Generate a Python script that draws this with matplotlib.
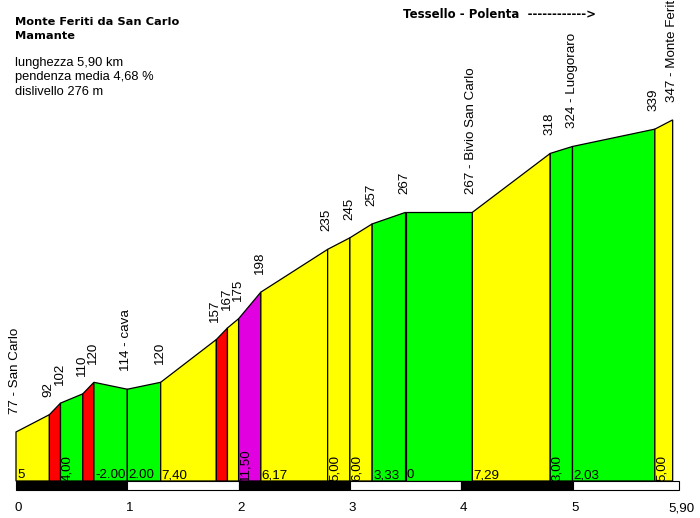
import matplotlib.pyplot as plt
from matplotlib.patches import Rectangle

# dati del profilo (km, quota)
km = [0.0, 0.3, 0.4, 0.6, 0.7, 1.0, 1.3, 1.8, 1.9, 2.0, 2.2, 2.8, 3.0, 3.2, 3.5, 4.1, 4.8, 5.0, 5.74, 5.9]
quota = [77, 92, 102, 110, 120, 114, 120, 157, 167, 175, 198, 235, 245, 257, 267, 267, 318, 324, 339, 347]
nomi = ['77 - San Carlo', '92', '102', '110', '120', '114 - cava', '120', '157', '167', '175', '198',
        '235', '245', '257', '267', '267 - Bivio San Carlo', '318', '324 - Luogoraro', '339', '347 - Monte Feriti']
pendenze = ['5', '', '4,00', '', '-2.00', '2.00', '7,40', '', '', '11,50', '6,17', '5,00', '6,00',
            '3,33', '0', '7,29', '3,00', '2,03', '5,00']
tick_km = [0, 1, 2, 3, 4, 5, 5.96]
tick_lab = ['0', '1', '2', '3', '4', '5', '5,90']

base = 34.6      # quota della linea di base
px_km = 111.3    # pixel per km
px_m = 1.156     # pixel per metro


def colore(p):
    if p < 4.5:
        return '#00ff00'
    if p < 9.5:
        return '#ffff00'
    if p < 11:
        return '#ff0000'
    return '#e000e0'


fig = plt.figure(figsize=(7, 5.18), dpi=100)
ax = fig.add_axes([0, 0, 1, 1])
ax.set_xlim(-16 / px_km, (700 - 16) / px_km)
y0 = 77 - 86 / px_m
ax.set_ylim(y0, y0 + 518 / px_m)
ax.axis('off')

font = 'Liberation Sans'
fs = 9.6

# segmenti colorati
for i in range(len(km) - 1):
    p = (quota[i + 1] - quota[i]) / (km[i + 1] - km[i]) / 10
    xs = [km[i], km[i], km[i + 1], km[i + 1]]
    ys = [base, quota[i], quota[i + 1], base]
    ax.fill(xs, ys, facecolor=colore(p), edgecolor='black', linewidth=0.9)
    w = km[i + 1] - km[i]
    if pendenze[i]:
        rot = 90 if w < 0.25 else 0
        ax.annotate(pendenze[i], (km[i], base), xytext=(1, 0), textcoords='offset pixels',
                    rotation=rot, ha='left', va='bottom', fontsize=fs, family=font)

# etichette quote (l'ultima esce dal bordo come nell'originale)
for x, q, n in zip(km, quota, nomi):
    ax.annotate(n, (x, q), xytext=(-1, 18), textcoords='offset pixels', rotation=90,
                ha='center', va='bottom', fontsize=fs, family=font, annotation_clip=False)

# barra dei km
h = 9 / px_m
for k in range(6):
    x1 = min(k + 1, tick_km[-1])
    ax.add_patch(Rectangle((k, base - h), x1 - k, h, facecolor='black' if k % 2 == 0 else 'white',
                           edgecolor='black', linewidth=0.8))
for t, l in zip(tick_km, tick_lab):
    ax.text(t + 0.02, base - 27 / px_m, l, ha='center', va='center', fontsize=fs, family=font)

# testi
fig.text(15 / 700, 1 - 22 / 518, 'Monte Feriti da San Carlo', fontsize=8.2, weight='bold',
         family='DejaVu Sans', va='center')
fig.text(15 / 700, 1 - 36 / 518, 'Mamante', fontsize=8.2, weight='bold', family='DejaVu Sans', va='center')
fig.text(15 / 700, 1 - 63 / 518, 'lunghezza 5,90 km', fontsize=9.3, family=font, va='center')
fig.text(15 / 700, 1 - 77 / 518, 'pendenza media 4,68 %', fontsize=9.3, family=font, va='center')
fig.text(15 / 700, 1 - 92 / 518, 'dislivello 276 m', fontsize=9.3, family=font, va='center')
fig.text(403 / 700, 1 - 14 / 518, 'Tessello - Polenta  ------------>', fontsize=8.5, weight='bold',
         family='DejaVu Sans', va='center')

fig.savefig('out.png', dpi=100)
